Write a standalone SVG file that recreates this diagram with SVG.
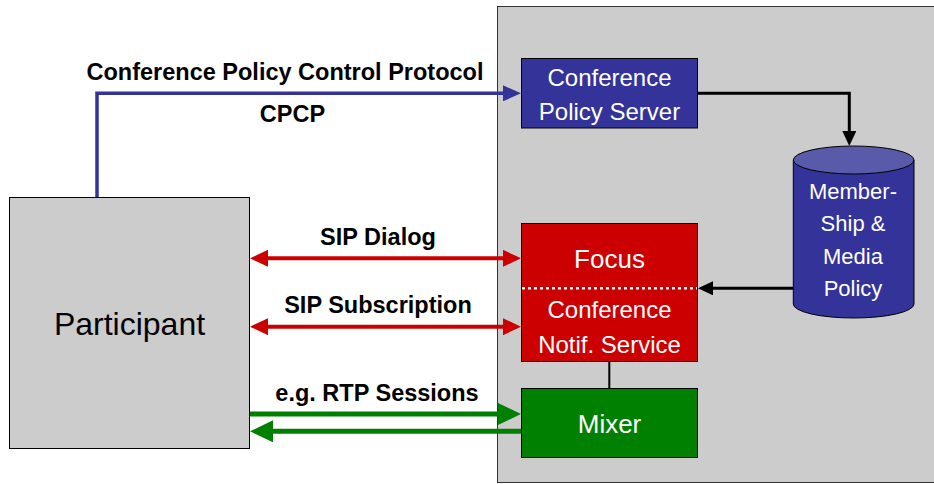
<svg xmlns="http://www.w3.org/2000/svg" width="934" height="484" viewBox="0 0 934 484">
<style>
.lbl{font-family:"Liberation Sans",Arial,sans-serif;font-weight:bold;font-size:23.5px;fill:#000;text-anchor:middle}
.nt{font-family:"Liberation Sans",Arial,sans-serif;fill:#fff;text-anchor:middle}
.box{stroke:#000;stroke-width:1}
</style>
<defs>
<marker id="ab" markerUnits="userSpaceOnUse" viewBox="0 0 18 16" markerWidth="18" markerHeight="16" refX="8" refY="8" orient="auto"><path d="M0,0 L18,8 L0,16 z" fill="#333399"/></marker>
<marker id="ar" markerUnits="userSpaceOnUse" viewBox="0 0 18 17" markerWidth="18" markerHeight="17" refX="8" refY="8.5" orient="auto-start-reverse"><path d="M0,0 L18,8.5 L0,17 z" fill="#cc0000"/></marker>
<marker id="ag" markerUnits="userSpaceOnUse" viewBox="0 0 23 22" markerWidth="23" markerHeight="22" refX="10" refY="11" orient="auto"><path d="M0,0 L23,11 L0,22 z" fill="#008000"/></marker>
<marker id="ak" markerUnits="userSpaceOnUse" viewBox="0 0 15 14" markerWidth="15" markerHeight="14" refX="6" refY="7" orient="auto"><path d="M0,0 L15,7 L0,14 z" fill="#000"/></marker>
</defs>
<rect width="934" height="484" fill="#fff"/>
<g id="container"><rect x="497.5" y="6.5" width="450" height="476" fill="#cccccc" stroke="#333" stroke-width="1"/></g>
<g id="connectors" fill="none">
<path d="M97,197 V93.3 H511" stroke="#333399" stroke-width="3.5" marker-end="url(#ab)"/>
<line x1="260" y1="258.3" x2="511" y2="258.3" stroke="#cc0000" stroke-width="4" marker-start="url(#ar)" marker-end="url(#ar)"/>
<line x1="260" y1="326.7" x2="511" y2="326.7" stroke="#cc0000" stroke-width="4" marker-start="url(#ar)" marker-end="url(#ar)"/>
<line x1="250" y1="414" x2="508" y2="414" stroke="#008000" stroke-width="5" marker-end="url(#ag)"/>
<line x1="521" y1="431.3" x2="263" y2="431.3" stroke="#008000" stroke-width="5" marker-end="url(#ag)"/>
<path d="M697.7,93.3 H849.3 V137" stroke="#000" stroke-width="3" marker-end="url(#ak)"/>
<path d="M793.3,288.3 H707" stroke="#000" stroke-width="3" marker-end="url(#ak)"/>
<line x1="609.3" y1="361.7" x2="609.3" y2="388.3" stroke="#000" stroke-width="2"/>
</g>
<g id="labels">
<text class="lbl" x="285" y="80">Conference Policy Control Protocol</text>
<text class="lbl" x="292.5" y="121.7">CPCP</text>
<text class="lbl" x="378" y="245">SIP Dialog</text>
<text class="lbl" x="378" y="313">SIP Subscription</text>
<text class="lbl" x="377" y="401">e.g. RTP Sessions</text>
</g>
<g id="participant">
<rect class="box" x="9.5" y="197.5" width="240" height="251" fill="#cccccc"/>
<text x="129.5" y="335" font-family="'Liberation Sans',Arial,sans-serif" font-size="32" text-anchor="middle" fill="#000">Participant</text>
</g>
<g id="policy-server">
<rect class="box" x="521.5" y="58.5" width="176" height="69.5" fill="#333399"/>
<text class="nt" x="609.5" y="85.7" font-size="24">Conference</text>
<text class="nt" x="609.5" y="120" font-size="24">Policy Server</text>
</g>
<g id="membership-db">
<path class="box" d="M793.3,160 V304 A60.35,14 0 0 0 914,304 V160 Z" fill="#333399"/>
<ellipse class="box" cx="853.65" cy="160" rx="60.35" ry="14" fill="#5a5aaa"/>
<text class="nt" x="853" y="199.3" font-size="22">Member-</text>
<text class="nt" x="853" y="231" font-size="22">Ship &amp;</text>
<text class="nt" x="853" y="263.5" font-size="22">Media</text>
<text class="nt" x="853" y="296" font-size="22">Policy</text>
</g>
<g id="focus">
<rect class="box" x="521.5" y="223.5" width="176" height="138" fill="#cc0000"/>
<line x1="522" y1="288.3" x2="697" y2="288.3" stroke="#fff" stroke-width="2.5" stroke-dasharray="3,3"/>
<text class="nt" x="609.5" y="267.7" font-size="26">Focus</text>
<text class="nt" x="609.5" y="318.3" font-size="24">Conference</text>
<text class="nt" x="609.5" y="353.3" font-size="24">Notif. Service</text>
</g>
<g id="mixer">
<rect class="box" x="521.5" y="388.5" width="176" height="69" fill="#008000"/>
<text class="nt" x="609.5" y="432.7" font-size="26">Mixer</text>
</g>
</svg>
